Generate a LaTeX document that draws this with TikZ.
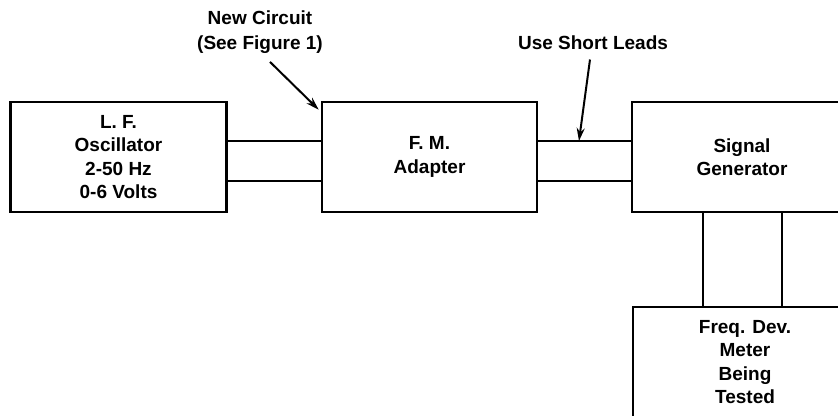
\documentclass[tikz,border=0pt]{standalone}
\usepackage{fontspec}
\setmainfont{Liberation Sans}
\usetikzlibrary{arrows.meta, positioning, calc}

\begin{document}
\begin{tikzpicture}[
    x=1pt, y=-1pt,
    font=\bfseries\fontsize{19}{23.5}\selectfont,
    >={Stealth[length=13pt, width=8pt]},
    unit/.style={draw, line width=2.6pt, minimum width=216pt, minimum height=110pt, align=center, inner sep=0pt},
    wire/.style={line width=2pt},
    note/.style={align=center, font=\bfseries\fontsize{19}{25}\selectfont},
    pointer/.style={->, line width=2pt},
]
\clip (0,0) rectangle (838,415);

% ── Boxes ──
\node[unit] (osc) at (118.5,157) {L. F.\\Oscillator\\2-50 Hz\\0-6 Volts};
\node[unit, minimum width=215pt] (fm) at (429.5,157) {F. M.\\Adapter};
\node[unit, minimum width=220pt] (gen) at (742,157) {Signal\\Generator};
\node[unit, minimum width=224pt] (meter) at (745,362) {Freq. Dev.\\Meter\\Being\\Tested};

% ── Leads between the boxes ──
\draw[wire] ([yshift=16pt]osc.east) -- ([yshift=16pt]fm.west);
\draw[wire] ([yshift=-24pt]osc.east) -- ([yshift=-24pt]fm.west);
\draw[wire] ([yshift=16pt]fm.east) -- coordinate[pos=0.44] (lead) ([yshift=16pt]gen.west);
\draw[wire] ([yshift=-24pt]fm.east) -- ([yshift=-24pt]gen.west);
\draw[wire] ([xshift=-39pt]gen.south) -- ([xshift=-39pt]gen.south |- meter.north);
\draw[wire] ([xshift=40pt]gen.south) -- ([xshift=40pt]gen.south |- meter.north);

% ── Notes ──
\node[note] (newckt) at (260,32) {New Circuit\\(See Figure 1)};
\node[note] (leads) at (593,43) {Use Short Leads};
\draw[pointer] ([xshift=10pt,yshift=-5pt]newckt.south) -- ([shift={(-2pt,-9pt)}]fm.north west);
\draw[pointer] ([xshift=-3pt,yshift=-6pt]leads.south) -- (lead);
\end{tikzpicture}
\end{document}
